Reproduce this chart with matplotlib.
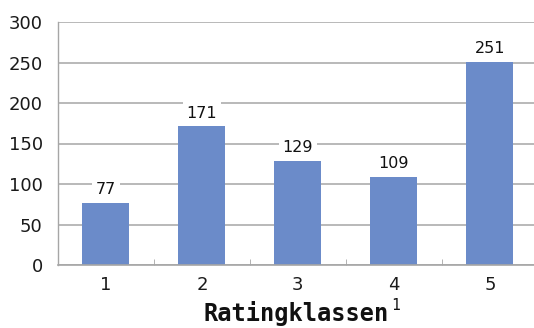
import matplotlib
matplotlib.use("Agg")
import matplotlib.pyplot as plt
import numpy as np

categories = ["1", "2", "3", "4", "5"]
values = [77, 171, 129, 109, 251]
y_ticks = [0, 50, 100, 150, 200, 250, 300]
x_label = "Ratingklassen"
footnote = "1"

bar_color = "#6b8bc9"
grid_color = "#a6a6a6"

fig = plt.figure(figsize=(5.34, 3.28), dpi=100)
ax = fig.add_axes([58 / 534, 63 / 328, 1 - 58 / 534, (265 - 22) / 328])

x = np.arange(len(categories))
ax.set_axisbelow(True)
ax.yaxis.grid(True, color=grid_color, linewidth=1.1)
bars = ax.bar(x, values, width=0.49, color=bar_color, zorder=2)

for xi, v in zip(x, values):
    ax.annotate(str(v), (xi, v), xytext=(0, 4), textcoords="offset points",
                ha="center", va="bottom", fontsize=11.5, color="#111111",
                bbox=dict(boxstyle="square,pad=0.25", fc="white", ec="none"),
                zorder=3)

ax.set_xlim(-0.5, 4.46)
ax.set_ylim(0, 300)
ax.set_yticks(y_ticks)
ax.set_yticklabels([str(t) for t in y_ticks], fontsize=13, color="#1a1a1a")
ax.set_xticks(x)
ax.set_xticklabels(categories, fontsize=13, color="#1a1a1a")
ax.set_xticks(np.arange(0.5, 4.5, 1.0), minor=True)
ax.tick_params(axis="x", which="major", length=0, pad=8)
ax.tick_params(axis="x", which="minor", length=4, direction="in", color=grid_color)
ax.tick_params(axis="y", length=0, pad=11)

for side in ("top", "right"):
    ax.spines[side].set_visible(False)
ax.spines["left"].set_color(grid_color)
ax.spines["bottom"].set_color(grid_color)
ax.spines["left"].set_linewidth(1.0)
ax.spines["bottom"].set_linewidth(1.2)

# axis title with a small raised footnote marker
lbl = fig.text(296 / 534, 2 / 328, x_label, fontsize=17, fontweight="bold",
               family="DejaVu Sans Mono", color="#111111", ha="center", va="bottom")
fig.canvas.draw()
bb = lbl.get_window_extent()
fig.text((bb.x1 + 3) / 534, (bb.y1 + 3) / 328, footnote, fontsize=10.5,
         family="DejaVu Sans Mono", color="#111111", ha="left", va="top")

fig.savefig("out.png", dpi=100)
